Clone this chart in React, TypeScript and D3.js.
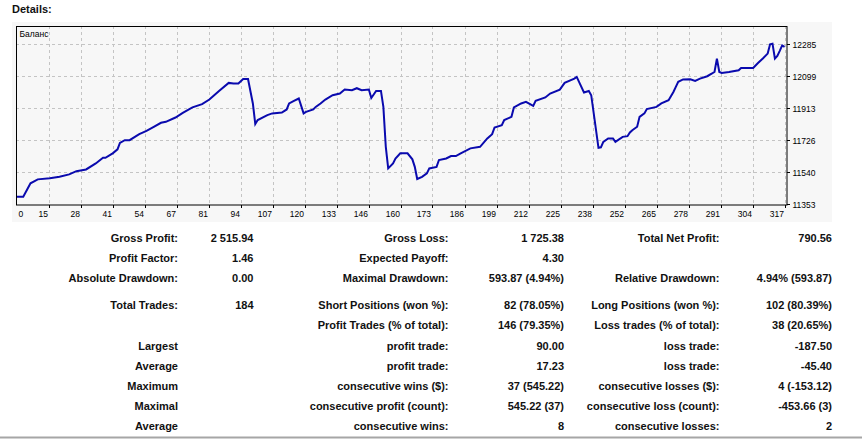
import React from "react";
import * as d3 from "d3";

// balance curve: [deal number, balance]
const dealIdx = [
  0, 3, 6, 9, 14, 18, 22, 25, 29, 33, 36, 37, 40, 42, 43, 45, 47, 51, 54, 57,
  60, 62, 66, 69, 73, 77, 80, 82, 84, 88, 90, 92, 94, 96, 98, 99, 100, 104, 106, 110,
  112, 113, 115, 117, 119, 120, 123, 124, 126, 128, 131, 134, 136, 139, 141, 143, 146, 147, 149, 151,
  152, 153, 154, 156, 157, 159, 162, 164, 165, 166, 168, 170, 171, 174, 175, 178, 180, 182, 184, 188,
  192, 195, 197, 198, 201, 202, 205, 206, 209, 211, 214, 215, 219, 221, 225, 227, 231, 232, 235, 237,
  238, 241, 242, 243, 245, 247, 248, 251, 253, 254, 255, 257, 258, 260, 261, 265, 267, 270, 272, 273,
  274, 276, 279, 281, 283, 286, 288, 289, 290, 291, 292, 295, 299, 300, 305, 307, 309, 311, 312, 313,
  314, 315, 316, 317, 318,
];
const balance = [
  11394, 11394, 11472, 11495, 11501, 11510, 11524, 11543, 11553, 11588, 11621, 11621, 11647, 11670, 11708, 11724, 11724, 11759, 11778, 11802,
  11825, 11831, 11856, 11883, 11915, 11934, 11961, 11986, 12011, 12058, 12054, 12054, 12081, 12081, 11938, 11818, 11841, 11870, 11880, 11885,
  11903, 11938, 11953, 11967, 11880, 11889, 11903, 11918, 11938, 11961, 11986, 11996, 12019, 12015, 12027, 12015, 12019, 11970, 12011, 12011,
  11918, 11685, 11559, 11588, 11617, 11647, 11647, 11612, 11568, 11497, 11510, 11530, 11559, 11568, 11608, 11617, 11631, 11631, 11647, 11676,
  11685, 11734, 11759, 11798, 11811, 11841, 11860, 11915, 11938, 11947, 11924, 11953, 11973, 11996, 12019, 12058, 12083, 12093, 12002, 12011,
  11986, 11679, 11682, 11714, 11734, 11734, 11714, 11743, 11747, 11769, 11782, 11802, 11860, 11880, 11905, 11918, 11938, 11957, 12005, 12035,
  12064, 12078, 12079, 12070, 12083, 12097, 12113, 12122, 12200, 12122, 12116, 12122, 12132, 12145, 12145, 12174, 12200, 12229, 12283, 12287,
  12200, 12215, 12245, 12277, 12268,
];

const xTickLabels = [
  "0", "15", "28", "41", "54", "67", "81", "94", "107", "120", "133", "146", "160",
  "173", "186", "199", "212", "225", "238", "252", "265", "278", "291", "304", "317",
];
const yTickValues = [11353, 11540, 11726, 11913, 12099, 12285];

// report table
const col1Labels = ["Gross Profit:", "Profit Factor:", "Absolute Drawdown:", "Total Trades:", "", "Largest", "Average", "Maximum", "Maximal", "Average"];
const col1Values = ["2 515.94", "1.46", "0.00", "184", "", "", "", "", "", ""];
const col2Labels = ["Gross Loss:", "Expected Payoff:", "Maximal Drawdown:", "Short Positions (won %):", "Profit Trades (% of total):", "profit trade:", "profit trade:", "consecutive wins ($):", "consecutive profit (count):", "consecutive wins:"];
const col2Values = ["1 725.38", "4.30", "593.87 (4.94%)", "82 (78.05%)", "146 (79.35%)", "90.00", "17.23", "37 (545.22)", "545.22 (37)", "8"];
const col3Labels = ["Total Net Profit:", "", "Relative Drawdown:", "Long Positions (won %):", "Loss trades (% of total):", "loss trade:", "loss trade:", "consecutive losses ($):", "consecutive loss (count):", "consecutive losses:"];
const col3Values = ["790.56", "", "4.94% (593.87)", "102 (80.39%)", "38 (20.65%)", "-187.50", "-45.40", "4 (-153.12)", "-453.66 (3)", "2"];

const W = 863;
const H = 439;
const plot = { left: 16, top: 26, right: 787, bottom: 205 };
const rowY = [242, 262, 282, 309, 329, 350, 370, 390, 410, 430];
const colRight = [178, 253.5, 448.5, 564, 719.5, 832];

const chartFont = "'Liberation Sans', Arial, sans-serif";

export default function App() {
  const x = d3.scaleLinear().domain([0, 319]).range([plot.left, plot.right]);
  const y = d3.scaleLinear().domain([11353, 12285]).range([203.7, 44]);
  const xt = d3.scaleLinear().domain([0, xTickLabels.length - 1]).range([16.5, 784.5]);

  const pts: [number, number][] = dealIdx.map((d, i) => [d, balance[i]]);
  const line = d3
    .line<[number, number]>()
    .x((d) => x(d[0]))
    .y((d) => y(d[1]));

  const columns = [
    [col1Labels, col1Values],
    [col2Labels, col2Values],
    [col3Labels, col3Values],
  ];

  return (
    <svg
      width={W}
      height={H}
      style={{ position: "absolute", left: 0, top: 0, background: "#fff" }}
    >
      <text x={12} y={12.5} fontFamily={chartFont} fontWeight="bold" fontSize={11} fill="#111">
        Details:
      </text>

      {/* chart panel */}
      <rect x={12} y={22} width={820} height={200} fill="#f7f7f7" />
      <clipPath id="plotclip">
        <rect x={plot.left} y={plot.top} width={plot.right - plot.left} height={plot.bottom - plot.top} />
      </clipPath>

      {/* grid */}
      {xTickLabels.slice(1).map((_, i) => {
        const px = Math.round(xt(i + 1)) + 0.5;
        return (
          <line key={"gx" + i} x1={px} x2={px} y1={plot.top} y2={plot.bottom}
            stroke="#c4c4c4" strokeDasharray="3,3" />
        );
      })}
      {yTickValues.slice(1).map((v) => {
        const py = Math.round(y(v)) + 0.5;
        return (
          <line key={"gy" + v} x1={plot.left} x2={plot.right} y1={py} y2={py}
            stroke="#c4c4c4" strokeDasharray="3,3" />
        );
      })}

      <text x={19.5} y={37} fontFamily={chartFont} fontSize={8.5} fill="#000">
        Баланс
      </text>

      <path
        d={line(pts) ?? ""}
        fill="none"
        stroke="#0a0aae"
        strokeWidth={2}
        strokeLinejoin="miter"
        clipPath="url(#plotclip)"
      />

      {/* frame */}
      <rect x={plot.left + 0.5} y={plot.top + 0.5} width={plot.right - plot.left - 0.5}
        height={plot.bottom - plot.top - 0.5} fill="none" stroke="#000" />

      {/* x axis */}
      {xTickLabels.map((t, i) => {
        const px = Math.round(xt(i)) + 0.5;
        return (
          <g key={"xt" + i}>
            {i > 0 && <line x1={px} x2={px} y1={plot.bottom} y2={plot.bottom + 3} stroke="#000" />}
            <text
              x={i === 0 ? px + 1 : px - 1.5}
              y={216.5}
              textAnchor={i === 0 ? "start" : "end"}
              fontFamily={chartFont}
              fontSize={8.5}
              fill="#000"
            >
              {t}
            </text>
          </g>
        );
      })}

      {/* y axis */}
      {yTickValues.map((v) => {
        const py = Math.round(y(v)) + 0.5;
        return (
          <g key={"yt" + v}>
            <line x1={plot.right} x2={plot.right + 3} y1={py} y2={py} stroke="#000" />
            <text x={792.5} y={py + 3} fontFamily={chartFont} fontSize={8.5} fill="#000">
              {v}
            </text>
          </g>
        );
      })}

      {/* details table */}
      {columns.map(([labels, values], c) =>
        rowY.map((ry, r) => (
          <g key={"r" + c + "-" + r}>
            {labels[r] && (
              <text x={colRight[c * 2]} y={ry} textAnchor="end" fontFamily={chartFont}
                fontWeight="bold" fontSize={11} fill="#111">
                {labels[r]}
              </text>
            )}
            {values[r] && (
              <text x={colRight[c * 2 + 1]} y={ry} textAnchor="end" fontFamily={chartFont}
                fontWeight="bold" fontSize={11} fill="#111">
                {values[r]}
              </text>
            )}
          </g>
        ))
      )}

      <rect x={0} y={436.5} width={862} height={2} fill="#a6a6a6" />
    </svg>
  );
}
